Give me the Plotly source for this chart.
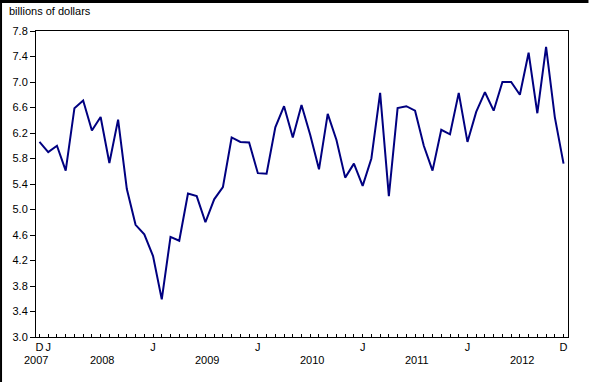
import plotly.graph_objects as go

# Monthly values, December 2007 to December 2012 (billions of dollars)
months = [f"{y}-{m:02d}" for y in range(2007, 2013) for m in range(1, 13)][11:]
values = [6.06, 5.90, 6.00, 5.61, 6.59, 6.71, 6.24, 6.45, 5.73, 6.41,
          5.32, 4.76, 4.61, 4.27, 3.59, 4.57, 4.51, 5.25, 5.21, 4.80,
          5.16, 5.35, 6.13, 6.06, 6.05, 5.57, 5.56, 6.29, 6.62, 6.13,
          6.64, 6.17, 5.63, 6.50, 6.09, 5.50, 5.72, 5.37, 5.80, 6.83,
          5.21, 6.59, 6.62, 6.55, 6.00, 5.61, 6.25, 6.18, 6.83, 6.06,
          6.53, 6.84, 6.55, 7.00, 7.00, 6.80, 7.46, 6.51, 7.55, 6.45,
          5.72]
x_idx = list(range(len(values)))

tick_months = ["2007-12", "2008-01", "2009-01", "2010-01", "2011-01", "2012-01", "2012-12"]
tick_text = ["D", "J", "J", "J", "J", "J", "D"]
years = ["2007", "2008", "2009", "2010", "2011", "2012"]
y_ticks = [3.0, 3.4, 3.8, 4.2, 4.6, 5.0, 5.4, 5.8, 6.2, 6.6, 7.0, 7.4, 7.8]

font = "Liberation Sans, Arial, sans-serif"

fig = go.Figure()
fig.add_trace(go.Scatter(x=x_idx, y=values, mode="lines",
                         line=dict(color="#000080", width=2),
                         hovertext=months, showlegend=False))

# year label positions (roughly centred under each year's months)
year_pos = []
for yr in years:
    if yr == "2007":
        year_pos.append(-0.4)
    else:
        year_pos.append(months.index(f"{yr}-01") + 6.2)

annotations = [dict(text=yr, x=xp, y=-0.075, xref="x", yref="paper",
                    showarrow=False, xanchor="center", yanchor="middle",
                    font=dict(family=font, size=11, color="black"))
               for yr, xp in zip(years, year_pos)]
annotations.append(dict(text="billions of dollars", x=-0.0545, y=1.066,
                        xref="paper", yref="paper", showarrow=False,
                        xanchor="left", yanchor="middle",
                        font=dict(family=font, size=11, color="black")))

fig.update_layout(
    width=589, height=382,
    margin=dict(l=36, r=20.5, t=31, b=45),
    paper_bgcolor="white", plot_bgcolor="white",
    font=dict(family=font, size=11, color="black"),
    annotations=annotations,
    shapes=[
        dict(type="rect", xref="paper", yref="paper",
             x0=-36/532.5, x1=-34/532.5, y0=-45/306, y1=337/306,
             fillcolor="black", line=dict(width=0), layer="above"),
        dict(type="rect", xref="paper", yref="paper",
             x0=-36/532.5, x1=553/532.5, y0=334/306, y1=337/306,
             fillcolor="black", line=dict(width=0), layer="above"),
    ],
)
fig.update_xaxes(
    range=[-0.4, 60.51], showgrid=False, zeroline=False,
    showline=True, linecolor="black", linewidth=1, mirror=True,
    tickmode="array", tickvals=[months.index(m) for m in tick_months],
    ticktext=tick_text, tickangle=0, ticks="inside", ticklen=3, tickcolor="black",
    minor=dict(tickmode="linear", tick0=0, dtick=1, ticks="inside",
               ticklen=3, tickcolor="black", showgrid=False),
    tickfont=dict(family=font, size=11, color="black"),
)
fig.update_yaxes(
    range=[3.0, 7.8], showgrid=False, zeroline=False,
    showline=True, linecolor="black", linewidth=1, mirror=True,
    tickmode="array", tickvals=y_ticks, ticktext=[f"{v:.1f}" for v in y_ticks],
    ticks="outside", ticklen=5, tickcolor="black",
    tickfont=dict(family=font, size=11, color="black"),
)

fig.write_html("out.html", config={"displayModeBar": False},
               post_script="document.body.style.margin='0';")
